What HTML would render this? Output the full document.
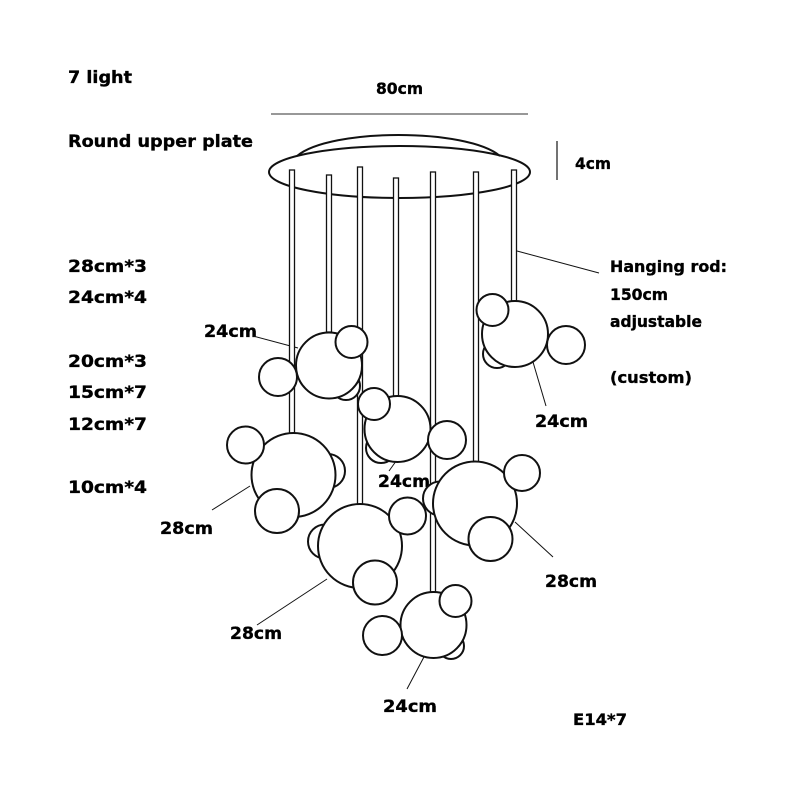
<!DOCTYPE html>
<html><head><meta charset="utf-8"><style>
html,body{margin:0;padding:0;background:#fff;}
svg{display:block;}
text{font-family:"DejaVu Sans","Liberation Sans",sans-serif;font-weight:bold;fill:#000;stroke:#000;stroke-width:0.35;}
</style></head><body>
<svg width="800" height="800" viewBox="0 0 800 800" xmlns="http://www.w3.org/2000/svg">
<rect width="800" height="800" fill="#fff"/>
<!-- texts -->
<text x="68" y="83" font-size="17" textLength="64" lengthAdjust="spacingAndGlyphs">7 light</text>
<text x="68" y="147" font-size="17" textLength="185" lengthAdjust="spacingAndGlyphs">Round upper plate</text>
<text x="376" y="94" font-size="16" textLength="47" lengthAdjust="spacingAndGlyphs">80cm</text>
<text x="575" y="169" font-size="16" textLength="36" lengthAdjust="spacingAndGlyphs">4cm</text>
<text x="68" y="272" font-size="17" textLength="79" lengthAdjust="spacingAndGlyphs">28cm*3</text>
<text x="68" y="303" font-size="17" textLength="79" lengthAdjust="spacingAndGlyphs">24cm*4</text>
<text x="68" y="367" font-size="17" textLength="79" lengthAdjust="spacingAndGlyphs">20cm*3</text>
<text x="68" y="398" font-size="17" textLength="79" lengthAdjust="spacingAndGlyphs">15cm*7</text>
<text x="68" y="430" font-size="17" textLength="79" lengthAdjust="spacingAndGlyphs">12cm*7</text>
<text x="68" y="493" font-size="17" textLength="79" lengthAdjust="spacingAndGlyphs">10cm*4</text>
<text x="610" y="272" font-size="16" textLength="117" lengthAdjust="spacingAndGlyphs">Hanging rod:</text>
<text x="610" y="300" font-size="16" textLength="58" lengthAdjust="spacingAndGlyphs">150cm</text>
<text x="610" y="327" font-size="16" textLength="92" lengthAdjust="spacingAndGlyphs">adjustable</text>
<text x="610" y="383" font-size="16" textLength="82" lengthAdjust="spacingAndGlyphs">(custom)</text>
<text x="204" y="337" font-size="17" textLength="53" lengthAdjust="spacingAndGlyphs">24cm</text>
<text x="535" y="427" font-size="17" textLength="53" lengthAdjust="spacingAndGlyphs">24cm</text>
<text x="378" y="487" font-size="17" textLength="52" lengthAdjust="spacingAndGlyphs">24cm</text>
<text x="383" y="712" font-size="17" textLength="54" lengthAdjust="spacingAndGlyphs">24cm</text>
<text x="160" y="534" font-size="17" textLength="53" lengthAdjust="spacingAndGlyphs">28cm</text>
<text x="230" y="639" font-size="17" textLength="52" lengthAdjust="spacingAndGlyphs">28cm</text>
<text x="545" y="587" font-size="17" textLength="52" lengthAdjust="spacingAndGlyphs">28cm</text>
<text x="573" y="725" font-size="16" textLength="54" lengthAdjust="spacingAndGlyphs">E14*7</text>

<!-- dimension lines -->
<line x1="271" y1="114" x2="528" y2="114" stroke="#777" stroke-width="1.5"/>
<line x1="557" y1="141" x2="557" y2="180" stroke="#444" stroke-width="1.5"/>

<!-- plate -->
<g fill="none" stroke="#111" stroke-width="2">
<ellipse cx="399.5" cy="172" rx="130.5" ry="26"/>
<path d="M297,156 C330,128 467,128 500,156"/>
</g>

<!-- leader lines -->
<g stroke="#111" stroke-width="1" fill="none">
<line x1="253" y1="336" x2="298" y2="348"/>
<line x1="533" y1="362" x2="546" y2="406"/>
<line x1="399" y1="457" x2="389" y2="471"/>
<line x1="250" y1="486" x2="212" y2="510"/>
<line x1="327" y1="579" x2="257" y2="625"/>
<line x1="515" y1="522" x2="553" y2="557"/>
<line x1="425" y1="655" x2="407" y2="689"/>
<line x1="517" y1="251" x2="599" y2="273"/>
</g>

<!-- rods -->
<g stroke="#111" stroke-width="1.3" fill="#fff">
<rect x="289.5" y="170" width="5" height="263"/>
<rect x="326.5" y="175" width="5" height="157"/>
<rect x="357.5" y="167" width="5" height="337"/>
<rect x="393.5" y="178" width="5" height="218"/>
<rect x="430.5" y="172" width="5" height="420"/>
<rect x="473.5" y="172" width="5" height="290"/>
<rect x="511.5" y="170" width="5" height="131"/>
</g>

<!-- balls -->
<g stroke="#111" stroke-width="2" fill="#fff">
<circle cx="346" cy="386" r="14"/>
<circle cx="329" cy="365.5" r="33"/>
<circle cx="278" cy="377" r="19"/>
<circle cx="351.5" cy="342" r="16"/>
<circle cx="497" cy="354" r="14"/>
<circle cx="515" cy="334" r="33"/>
<circle cx="566" cy="345" r="19"/>
<circle cx="492.5" cy="310" r="16"/>
<circle cx="381" cy="448" r="15"/>
<circle cx="397.5" cy="429" r="33"/>
<circle cx="447" cy="440" r="19"/>
<circle cx="374" cy="404" r="16"/>
<circle cx="328" cy="471" r="17"/>
<circle cx="293.5" cy="475" r="42"/>
<circle cx="245.5" cy="445" r="18.5"/>
<circle cx="277" cy="511" r="22"/>
<circle cx="440" cy="498.5" r="17"/>
<circle cx="475" cy="503.5" r="42"/>
<circle cx="522" cy="473" r="18"/>
<circle cx="490.5" cy="539" r="22"/>
<circle cx="325" cy="541.5" r="17"/>
<circle cx="360" cy="546" r="42"/>
<circle cx="407.5" cy="516" r="18.5"/>
<circle cx="375" cy="582.5" r="22"/>
<circle cx="451" cy="646" r="13"/>
<circle cx="433.5" cy="625" r="33"/>
<circle cx="382.5" cy="635.5" r="19.5"/>
<circle cx="455.5" cy="601" r="16"/>
</g>
</svg>
</body></html>
